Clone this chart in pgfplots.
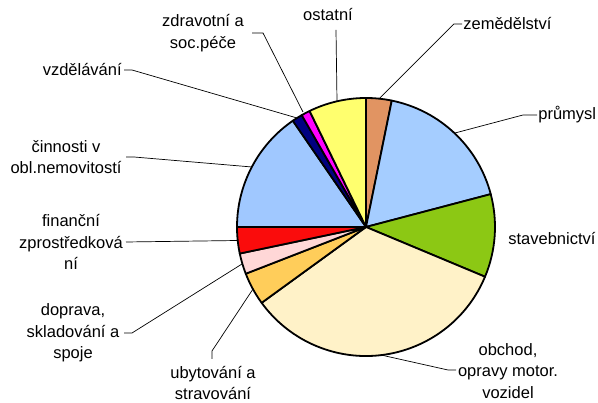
\documentclass[border=0pt]{standalone}
\usepackage{fontspec}
\setmainfont{Liberation Sans}
\usepackage{pgfplots}
\usepackage{pgfplotstable}
\pgfplotsset{compat=1.18}

\definecolor{czem}{RGB}{225,148,98}
\definecolor{cprum}{RGB}{165,205,255}
\definecolor{cstav}{RGB}{140,200,20}
\definecolor{cobch}{RGB}{255,242,200}
\definecolor{cubyt}{RGB}{255,205,90}
\definecolor{cdopr}{RGB}{255,215,215}
\definecolor{cfin}{RGB}{250,12,12}
\definecolor{cnem}{RGB}{160,200,255}
\definecolor{cvzd}{RGB}{0,0,128}
\definecolor{czdr}{RGB}{255,0,255}
\definecolor{cost}{RGB}{255,255,110}

% podíly odvětví v %, po směru hodinových ručiček od 12 hodin
\pgfplotstableread{
sector        value  col
zemedelstvi   3.2    czem
prumysl       17.7   cprum
stavebnictvi  10.4   cstav
obchod        33.7   cobch
ubytovani     4.1    cubyt
doprava       2.6    cdopr
financni      3.3    cfin
nemovitosti   15.4   cnem
vzdelavani    1.3    cvzd
zdravotni     1.1    czdr
ostatni       7.2    cost
}\piedata

\begin{document}
\begin{tikzpicture}[font=\fontsize{16.5}{21.5}\selectfont]
\begin{axis}[
  x=1pt, y=1pt,
  xmin=0, xmax=598, ymin=0, ymax=403,
  hide axis, clip=false,
]
\pgfplotstablegetrowsof{\piedata}
\pgfmathtruncatemacro\N{\pgfplotsretval-1}
\def\cumul{0}
\pgfplotsforeachungrouped \i in {0,...,\N}{
  \pgfplotstablegetelem{\i}{value}\of\piedata \let\v\pgfplotsretval
  \pgfplotstablegetelem{\i}{col}\of\piedata \let\c\pgfplotsretval
  \pgfmathsetmacro\a{90-3.6*\cumul}
  \pgfmathsetmacro\b{90-3.6*(\cumul+\v)}
  \edef\temp{\noexpand\filldraw[fill=\c, draw=black, line width=1.8pt, line join=round]
    (axis cs:366,176) -- ++(\a:129pt) arc[start angle=\a, end angle=\b, radius=129pt] -- cycle;}
  \temp
  \pgfmathsetmacro\cumul{\cumul+\v}
}

% popisky a odkazové čáry
\begin{scope}[every node/.style={inner sep=0pt, align=center}, line width=0.7pt]
\node at (axis cs:328,388) {ostatní};
\draw (axis cs:336,373) -- (axis cs:337,302);
\node at (axis cs:203,370) {zdravotní a\\soc.péče};
\draw (axis cs:252,370) -- (axis cs:263,370) -- (axis cs:303,291);
\node[anchor=east] at (axis cs:122,333) {vzdělávání};
\draw (axis cs:124,333) -- (axis cs:132,333) -- (axis cs:297,285);
\node at (axis cs:66,246) {činnosti v\\obl.nemovitostí};
\draw (axis cs:126,246) -- (axis cs:134,246) -- (axis cs:252,236);
\node at (axis cs:71,161) {finanční\\zprostředková\\ní};
\draw (axis cs:126,161) -- (axis cs:238,162.5);
\node at (axis cs:73,70) {doprava,\\skladování a\\spoje};
\draw (axis cs:124,70) -- (axis cs:132,70) -- (axis cs:242,139);
\node at (axis cs:213,20) {ubytování a\\stravování};
\draw (axis cs:212,44) -- (axis cs:212,52) -- (axis cs:253,114);
\node at (axis cs:508,32) {obchod,\\opravy motor.\\vozidel};
\draw (axis cs:456,33) -- (axis cs:448,33) -- (axis cs:381,48);
\node[anchor=west] at (axis cs:508,164) {stavebnictví};
\node[anchor=west] at (axis cs:538,288) {průmysl};
\draw (axis cs:537,288) -- (axis cs:523,288) -- (axis cs:455,270);
\node[anchor=west] at (axis cs:463,379) {zemědělství};
\draw (axis cs:462,379) -- (axis cs:454,379) -- (axis cs:379,304);
\end{scope}
\end{axis}
\pgfresetboundingbox
\path[use as bounding box] (0,0) rectangle (598pt,403pt);
\end{tikzpicture}
\end{document}
